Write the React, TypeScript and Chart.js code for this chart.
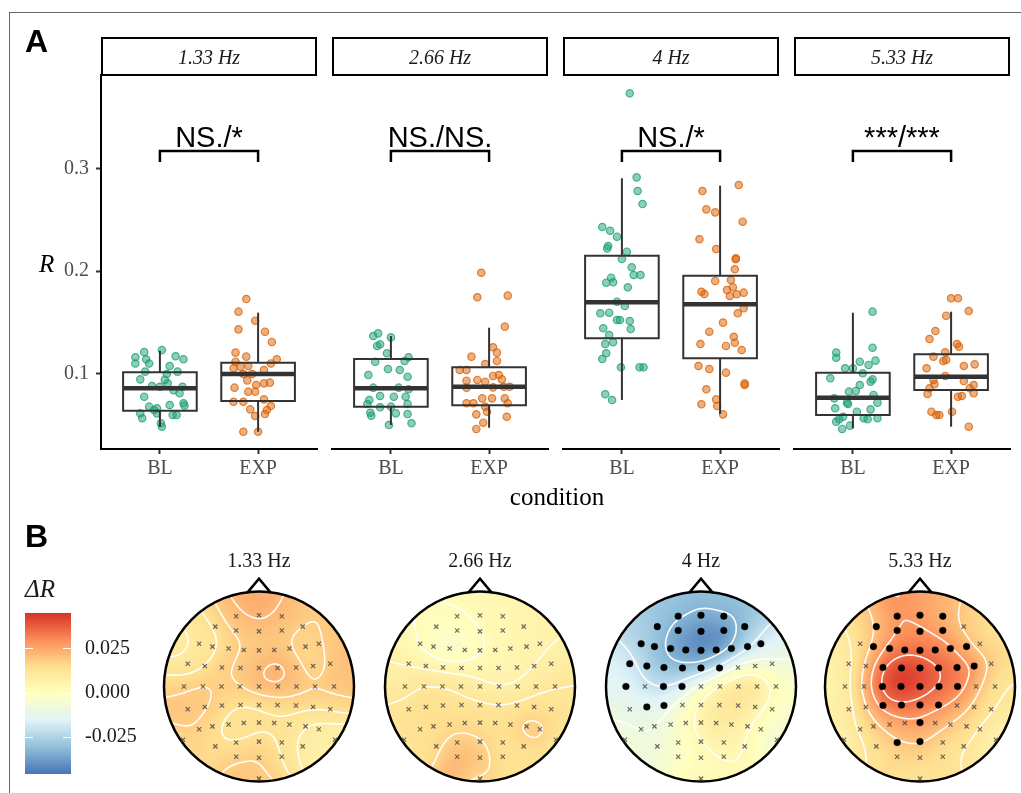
import React, { useEffect, useRef } from 'react';
import { Chart, registerables } from 'chart.js';

Chart.register(...registerables);

const SERIF = '"Liberation Serif", "Times New Roman", serif';
const SANS = '"Liberation Sans", Arial, sans-serif';

/* ================= Panel A data ================= */
const FREQS = ['1.33 Hz', '2.66 Hz', '4 Hz', '5.33 Hz'];
const CONDITIONS = ['BL', 'EXP'];
const SIG_LABELS = ['NS./*', 'NS./NS.', 'NS./*', '***/***'];
const R_TICKS = [0.1, 0.2, 0.3];

// boxplot stats: [lower whisker, Q1, median, Q3, upper whisker]
const BOX_BL = [
  [0.0484, 0.064, 0.0858, 0.1014, 0.1224],
  [0.05, 0.0679, 0.0858, 0.1143, 0.1367],
  [0.0744, 0.1345, 0.1695, 0.2149, 0.2903],
  [0.0468, 0.0598, 0.0766, 0.101, 0.1594],
];
const BOX_EXP = [
  [0.0435, 0.0734, 0.0997, 0.1107, 0.1594],
  [0.0474, 0.0692, 0.0873, 0.1062, 0.1448],
  [0.0608, 0.115, 0.1676, 0.1954, 0.2831],
  [0.0484, 0.0841, 0.0971, 0.1189, 0.1604],
];

// jittered participants: [jitter offset, R]
const PTS_BL_133 = [
  [-0.16, 0.121], [0.02, 0.123], [0.16, 0.117], [0.24, 0.114], [-0.25, 0.116], [-0.14, 0.114],
  [-0.11, 0.11], [-0.25, 0.11], [0.1, 0.1075], [-0.2, 0.0945], [-0.15, 0.102], [0.07, 0.0997],
  [0.18, 0.102], [-0.08, 0.088], [0.0, 0.0873], [0.08, 0.0906], [0.23, 0.0873], [0.14, 0.084],
  [-0.16, 0.0776], [0.2, 0.0809], [0.05, 0.094], [0.24, 0.0712], [0.25, 0.0689], [-0.11, 0.0679],
  [-0.03, 0.0663], [0.1, 0.0695], [-0.2, 0.0614], [-0.18, 0.0566], [-0.03, 0.0614], [0.13, 0.0598],
  [0.17, 0.0598], [0.02, 0.0484], [0.01, 0.0517], [-0.06, 0.0646],
];
const PTS_EXP_133 = [
  [-0.12, 0.1727], [-0.2, 0.1604], [-0.03, 0.1516], [-0.2, 0.1432], [0.07, 0.1409], [0.14, 0.1309],
  [-0.23, 0.1205], [-0.12, 0.1166], [0.19, 0.114], [-0.23, 0.1117], [0.13, 0.11], [-0.1, 0.1075],
  [-0.18, 0.1068], [-0.25, 0.1053], [0.06, 0.1036], [-0.06, 0.0997], [-0.15, 0.0997], [-0.24, 0.0864],
  [-0.02, 0.089], [0.06, 0.0906], [0.12, 0.0913], [-0.1, 0.0825], [-0.03, 0.0825], [-0.25, 0.0727],
  [-0.15, 0.0727], [0.06, 0.075], [0.13, 0.0685], [-0.08, 0.0653], [0.09, 0.0646], [-0.03, 0.0588],
  [0.07, 0.0607], [-0.15, 0.0435], [0.0, 0.0435], [-0.11, 0.0935],
];
const PTS_BL_266 = [
  [-0.18, 0.1367], [-0.13, 0.1393], [-0.11, 0.1286], [-0.14, 0.127], [0.0, 0.1354], [-0.04, 0.1199],
  [0.18, 0.116], [0.14, 0.1124], [-0.16, 0.1117], [-0.03, 0.1046], [0.09, 0.1036], [-0.23, 0.0987],
  [0.17, 0.0971], [-0.18, 0.0864], [0.08, 0.0864], [0.18, 0.0848], [-0.11, 0.0783], [0.03, 0.0776],
  [0.15, 0.0776], [-0.22, 0.0744], [-0.24, 0.0705], [0.17, 0.0705], [-0.11, 0.0673], [0.0, 0.0679],
  [-0.21, 0.062], [-0.2, 0.0591], [0.05, 0.0614], [0.17, 0.0607], [-0.02, 0.05], [0.21, 0.0517],
];
const PTS_EXP_266 = [
  [-0.08, 0.1983], [-0.12, 0.1744], [0.19, 0.176], [0.16, 0.1458], [0.04, 0.1257], [0.08, 0.1205],
  [-0.18, 0.1166], [0.08, 0.1124], [-0.04, 0.1094], [-0.3, 0.1036], [-0.23, 0.1036], [0.04, 0.0978],
  [0.1, 0.0987], [-0.23, 0.0932], [-0.12, 0.0939], [-0.04, 0.0922], [0.13, 0.0945], [0.21, 0.0873],
  [-0.23, 0.0864], [0.04, 0.0867], [0.15, 0.0873], [-0.07, 0.076], [0.03, 0.076], [0.16, 0.076],
  [-0.23, 0.0712], [-0.16, 0.0712], [0.19, 0.0712], [-0.04, 0.0679], [-0.13, 0.0604], [-0.02, 0.063],
  [0.18, 0.0581], [-0.06, 0.0523], [-0.13, 0.0462],
];
const PTS_BL_4 = [
  [0.08, 0.373], [0.15, 0.2912], [0.16, 0.2779], [0.21, 0.2652], [-0.2, 0.2428], [-0.12, 0.2392],
  [-0.05, 0.2334], [-0.14, 0.2243], [-0.15, 0.222], [0.05, 0.2188], [0.0, 0.2117], [0.1, 0.2036],
  [0.12, 0.1961], [0.19, 0.1961], [-0.11, 0.1935], [-0.16, 0.1886], [-0.09, 0.189], [0.06, 0.1841],
  [-0.05, 0.1701], [0.03, 0.1659], [-0.22, 0.1588], [-0.13, 0.1594], [-0.05, 0.1523], [-0.02, 0.1523],
  [0.08, 0.1513], [-0.19, 0.1442], [0.09, 0.1435], [-0.13, 0.1377], [-0.17, 0.1289], [-0.09, 0.1306],
  [-0.16, 0.1199], [-0.2, 0.1143], [-0.01, 0.1062], [0.18, 0.1062], [0.22, 0.1062], [-0.17, 0.08],
  [-0.1, 0.0744],
];
const PTS_EXP_4 = [
  [0.19, 0.2837], [-0.18, 0.2779], [-0.14, 0.26], [-0.05, 0.2571], [0.23, 0.248], [-0.21, 0.2309],
  [-0.04, 0.2214], [0.16, 0.2124], [0.16, 0.2114], [0.15, 0.2017], [-0.05, 0.1903], [0.11, 0.1912],
  [0.13, 0.1841], [0.07, 0.1815], [-0.19, 0.1798], [-0.16, 0.1776], [0.1, 0.1757], [0.24, 0.1789],
  [0.17, 0.1773], [0.24, 0.1637], [0.18, 0.1588], [0.03, 0.1497], [-0.11, 0.1409], [0.14, 0.136],
  [0.15, 0.1302], [-0.2, 0.1289], [0.06, 0.127], [0.22, 0.1231], [-0.22, 0.1075], [-0.11, 0.1046],
  [0.06, 0.101], [0.25, 0.0906], [0.25, 0.089], [-0.14, 0.0848], [-0.04, 0.075], [-0.19, 0.0702],
  [-0.03, 0.0685], [0.03, 0.0604],
];
const PTS_BL_533 = [
  [0.2, 0.1604], [-0.17, 0.1205], [-0.17, 0.1156], [0.2, 0.1253], [0.07, 0.1117], [0.23, 0.1127],
  [0.16, 0.1085], [-0.08, 0.1053], [0.0, 0.1053], [0.1, 0.1004], [-0.23, 0.0955], [0.2, 0.0945],
  [0.18, 0.0922], [0.07, 0.089], [-0.04, 0.0825], [0.03, 0.0832], [0.21, 0.0793], [-0.19, 0.076],
  [-0.06, 0.0718], [-0.05, 0.0705], [0.25, 0.0718], [-0.18, 0.0663], [0.04, 0.063], [0.18, 0.0653],
  [-0.1, 0.0581], [-0.14, 0.0556], [-0.17, 0.0533], [0.11, 0.0566], [0.15, 0.0556], [0.25, 0.0566],
  [-0.11, 0.0462], [-0.03, 0.0494],
];
const PTS_EXP_533 = [
  [0.0, 0.1734], [0.07, 0.1734], [0.18, 0.161], [-0.05, 0.1565], [-0.16, 0.1416], [-0.22, 0.1338],
  [0.06, 0.1289], [0.08, 0.1263], [-0.06, 0.1208], [-0.18, 0.1166], [-0.08, 0.1124], [-0.05, 0.1133],
  [-0.25, 0.1053], [0.13, 0.1075], [0.24, 0.1091], [-0.06, 0.0978], [-0.18, 0.0939], [0.13, 0.0929],
  [-0.17, 0.0897], [-0.22, 0.0858], [0.19, 0.0858], [0.23, 0.089], [-0.24, 0.0802], [0.11, 0.0783],
  [0.07, 0.0776], [0.23, 0.0809], [-0.2, 0.063], [-0.15, 0.0598], [-0.12, 0.0598], [0.01, 0.063],
  [0.18, 0.0484],
];
const POINTS_BL = [PTS_BL_133, PTS_BL_266, PTS_BL_4, PTS_BL_533];
const POINTS_EXP = [PTS_EXP_133, PTS_EXP_266, PTS_EXP_4, PTS_EXP_533];

/* ================= Panel B data ================= */
const ELECTRODES = [
  'Fp1', 'Fpz', 'Fp2',
  'AF7', 'AF3', 'AFz', 'AF4', 'AF8',
  'F7', 'F5', 'F3', 'F1', 'Fz', 'F2', 'F4', 'F6', 'F8',
  'FT7', 'FC5', 'FC3', 'FC1', 'FCz', 'FC2', 'FC4', 'FC6', 'FT8',
  'T7', 'C5', 'C3', 'C1', 'Cz', 'C2', 'C4', 'C6', 'T8',
  'TP7', 'CP5', 'CP3', 'CP1', 'CPz', 'CP2', 'CP4', 'CP6', 'TP8',
  'P9', 'P7', 'P5', 'P3', 'P1', 'Pz', 'P2', 'P4', 'P6', 'P8', 'P10',
  'PO7', 'PO3', 'POz', 'PO4', 'PO8',
  'O1', 'Oz', 'O2',
  'Iz',
];
const ELEC_X = [
  -0.24, 0, 0.24,
  -0.46, -0.24, 0, 0.24, 0.46,
  -0.63, -0.49, -0.32, -0.16, 0, 0.16, 0.32, 0.49, 0.63,
  -0.75, -0.57, -0.39, -0.195, 0, 0.195, 0.39, 0.57, 0.75,
  -0.79, -0.59, -0.395, -0.2, 0, 0.2, 0.395, 0.59, 0.79,
  -0.75, -0.57, -0.39, -0.195, 0, 0.195, 0.39, 0.57, 0.75,
  -0.8, -0.63, -0.49, -0.32, -0.16, 0, 0.16, 0.32, 0.49, 0.63, 0.8,
  -0.46, -0.24, 0, 0.24, 0.46,
  -0.24, 0, 0.24,
  0,
];
const ELEC_Y = [
  0.74, 0.75, 0.74,
  0.63, 0.59, 0.58, 0.59, 0.63,
  0.45, 0.42, 0.4, 0.385, 0.38, 0.385, 0.4, 0.42, 0.45,
  0.24, 0.215, 0.2, 0.195, 0.195, 0.195, 0.2, 0.215, 0.24,
  0, 0, 0, 0, 0, 0, 0, 0, 0,
  -0.24, -0.215, -0.2, -0.195, -0.195, -0.195, -0.2, -0.215, -0.24,
  -0.56, -0.45, -0.42, -0.4, -0.385, -0.38, -0.385, -0.4, -0.42, -0.45, -0.56,
  -0.63, -0.59, -0.58, -0.59, -0.63,
  -0.74, -0.75, -0.74,
  -0.97,
];
// ΔR per electrode (same order as ELECTRODES)
const DR_133 = [
  0.023, 0.025, 0.022,
  0.014, 0.018, 0.019, 0.019, 0.018,
  0.009, 0.012, 0.017, 0.018, 0.019, 0.02, 0.018, 0.013, 0.02,
  0.009, 0.014, 0.018, 0.019, 0.022, 0.026, 0.021, 0.013, 0.021,
  0.017, 0.02, 0.017, 0.018, 0.023, 0.023, 0.02, 0.019, 0.02,
  0.02, 0.02, 0.016, 0.013, 0.013, 0.015, 0.016, 0.015, 0.015,
  0.016, 0.019, 0.014, 0.012, 0.012, 0.013, 0.013, 0.013, 0.01, 0.006, 0.007,
  0.015, 0.012, 0.016, 0.014, 0.006,
  0.02, 0.019, 0.014,
  0.019,
];
const DR_266 = [
  0.002, 0.003, 0.004,
  0.001, -0.003, 0.001, 0.004, 0.005,
  0.003, -0.005, -0.006, -0.005, 0.0, 0.003, 0.004, 0.005, 0.006,
  0.006, 0.006, 0.005, 0.005, 0.005, 0.004, 0.004, 0.006, 0.008,
  0.009, 0.013, 0.013, 0.011, 0.007, 0.005, 0.006, 0.011, 0.012,
  0.013, 0.015, 0.014, 0.013, 0.013, 0.012, 0.013, 0.014, 0.013,
  0.012, 0.014, 0.015, 0.015, 0.016, 0.015, 0.014, 0.015, 0.021, 0.019, 0.012,
  0.014, 0.019, 0.017, 0.014, 0.013,
  0.024, 0.021, 0.013,
  0.015,
];
const DR_4 = [
  -0.029, -0.031, -0.029,
  -0.027, -0.038, -0.044, -0.044, -0.029,
  -0.023, -0.031, -0.036, -0.04, -0.044, -0.043, -0.036, -0.025, -0.016,
  -0.016, -0.025, -0.031, -0.031, -0.031, -0.018, -0.002, 0.0, -0.01,
  -0.014, -0.019, -0.023, -0.019, -0.002, 0.01, 0.016, 0.016, -0.003,
  -0.01, -0.015, -0.013, -0.003, 0.007, 0.012, 0.013, 0.008, -0.004,
  -0.006, -0.009, -0.009, -0.006, 0.0, 0.007, 0.01, 0.01, 0.004, -0.004, -0.008,
  -0.009, -0.003, 0.003, 0.007, 0.002,
  -0.002, 0.0, 0.002,
  0.002,
];
const DR_533 = [
  0.029, 0.026, 0.022,
  0.018, 0.028, 0.029, 0.025, 0.016,
  0.01, 0.022, 0.03, 0.033, 0.033, 0.032, 0.03, 0.022, 0.013,
  0.006, 0.02, 0.039, 0.046, 0.043, 0.037, 0.034, 0.03, 0.015,
  0.005, 0.021, 0.042, 0.046, 0.041, 0.036, 0.034, 0.022, 0.011,
  0.006, 0.018, 0.034, 0.037, 0.034, 0.031, 0.026, 0.018, 0.01,
  0.004, 0.012, 0.018, 0.022, 0.025, 0.027, 0.022, 0.019, 0.016, 0.01, 0.003,
  0.012, 0.02, 0.021, 0.016, 0.01,
  0.015, 0.016, 0.013,
  0.012,
];
const TOPO_VALUES = [DR_133, DR_266, DR_4, DR_533];
const SIG_133: string[] = [];
const SIG_266: string[] = [];
const SIG_4 = ['Fp1', 'Fpz', 'Fp2', 'AF7', 'AF3', 'AFz', 'AF4', 'AF8', 'F7', 'F5', 'F3', 'F1', 'Fz', 'F2', 'F4', 'F6', 'F8',
  'FT7', 'FC5', 'FC3', 'FC1', 'FCz', 'FC2', 'T7', 'C3', 'C1', 'CP5', 'CP3'];
const SIG_533 = ['Fp1', 'Fpz', 'Fp2', 'AF7', 'AF3', 'AFz', 'AF4', 'F5', 'F3', 'F1', 'Fz', 'F2', 'F4', 'F6',
  'FC3', 'FC1', 'FCz', 'FC2', 'FC4', 'FC6', 'C3', 'C1', 'Cz', 'C2', 'C4', 'CP3', 'CP1', 'CPz', 'CP2', 'Pz', 'PO3', 'POz'];
const TOPO_SIG = [SIG_133, SIG_266, SIG_4, SIG_533];

const DR_MIN = -0.046;
const DR_MAX = 0.045;
const CB_TICKS = [-0.025, 0, 0.025];
const PALETTE = ['#4575b4', '#91bfdb', '#e0f3f8', '#ffffbf', '#fee090', '#fc8d59', '#d73027'];

/* ================= layout / style constants ================= */
const GREEN = '27,158,119';
const ORANGE = '217,95,2';
const R_MIN = 0.02668;
const R_MAX = 0.39085;
const BRACKET_Y = 0.3168;
const BRACKET_TIP = 0.3061;
const SIG_TEXT_Y = 0.3207;
const BOX_HALF = 0.375;
const PANEL_LEFT = [101, 332, 563, 794];
const PANEL_W = 216;
const TOPO_LEFT = [139, 360, 581, 800];
const TOPO_TOP = 540;
const TOPO_W = 240;
const TOPO_H = 260;
const HEAD_PX = 95;
const HEAD_CY = 686.5;
const SIGMA = 0.135;

const PAL_RGB = PALETTE.map((h) => [parseInt(h.slice(1, 3), 16), parseInt(h.slice(3, 5), 16), parseInt(h.slice(5, 7), 16)]);
function colorAt(v: number) {
  let t = (v - DR_MIN) / (DR_MAX - DR_MIN);
  t = Math.max(0, Math.min(1, t));
  const p = t * (PAL_RGB.length - 1);
  const i = Math.min(Math.floor(p), PAL_RGB.length - 2);
  const f = p - i;
  const a = PAL_RGB[i], b = PAL_RGB[i + 1];
  return [a[0] + (b[0] - a[0]) * f, a[1] + (b[1] - a[1]) * f, a[2] + (b[2] - a[2]) * f];
}

function makeInterp(vals: number[]) {
  const s2 = 2 * SIGMA * SIGMA;
  const n = vals.length;
  return (x: number, y: number) => {
    let ws = 0, vs = 0;
    for (let k = 0; k < n; k++) {
      const dx = x - ELEC_X[k], dy = y - ELEC_Y[k];
      const w = Math.exp(-(dx * dx + dy * dy) / s2) + 1e-12;
      ws += w;
      vs += w * vals[k];
    }
    return vs / ws;
  };
}

function signif1(x: number) {
  if (x === 0) return 0;
  const p = Math.pow(10, Math.floor(Math.log10(Math.abs(x))));
  return Math.round(x / p) * p;
}

const common = {
  responsive: false,
  animation: false as const,
  devicePixelRatio: 1,
  events: [] as any[],
};

/* ================= Facet (panel A) ================= */
function Facet({ idx }: { idx: number }) {
  const ref = useRef<HTMLCanvasElement>(null);
  const first = idx === 0;
  const left = first ? 20 : PANEL_LEFT[idx] - 4;
  const width = first ? PANEL_LEFT[0] + PANEL_W + 4 - 20 : PANEL_W + 8;
  const height = 480;

  useEffect(() => {
    const datasets: any[] = [];
    [POINTS_BL[idx], POINTS_EXP[idx]].forEach((pts, ci) => {
      const rgb = ci === 0 ? GREEN : ORANGE;
      datasets.push({
        data: pts.map(([dx, v]) => ({ x: ci + 1 + dx, y: v })),
        backgroundColor: `rgba(${rgb},0.5)`,
        borderColor: `rgba(${rgb},0.75)`,
        borderWidth: 1.2,
        pointRadius: 3.7,
        order: 3,
      });
    });
    const line = (data: any[], w: number, cap = 'butt') => ({
      data, showLine: true, pointRadius: 0, borderColor: '#333333', borderWidth: w,
      tension: 0, fill: false, borderCapStyle: cap, borderJoinStyle: 'miter', order: 1,
    });
    [BOX_BL[idx], BOX_EXP[idx]].forEach((b, ci) => {
      const c = ci + 1;
      const [lo, q1, med, q3, hi] = b;
      datasets.push(line([
        { x: c - BOX_HALF, y: q1 }, { x: c + BOX_HALF, y: q1 }, { x: c + BOX_HALF, y: q3 },
        { x: c - BOX_HALF, y: q3 }, { x: c - BOX_HALF, y: q1 },
      ], 2, 'square'));
      datasets.push(line([{ x: c, y: lo }, { x: c, y: q1 }], 2));
      datasets.push(line([{ x: c, y: q3 }, { x: c, y: hi }], 2));
      datasets.push(line([{ x: c - BOX_HALF, y: med }, { x: c + BOX_HALF, y: med }], 4.5));
    });
    datasets.push({
      data: [{ x: 1, y: BRACKET_TIP }, { x: 1, y: BRACKET_Y }, { x: 2, y: BRACKET_Y }, { x: 2, y: BRACKET_TIP }],
      showLine: true, pointRadius: 0, borderColor: '#000', borderWidth: 2.5, tension: 0,
      borderCapStyle: 'butt', borderJoinStyle: 'miter', order: 0, clip: false,
    });

    const decor = {
      id: 'facetDecor',
      afterDraw(chart: any) {
        const { ctx, chartArea: a } = chart;
        const xs = chart.scales.x, ys = chart.scales.y;
        ctx.save();
        ctx.lineWidth = 2;
        ctx.strokeStyle = '#000';
        ctx.strokeRect(a.left + 1, a.top - 37, a.right - a.left - 2, 37);
        ctx.fillStyle = '#1a1a1a';
        ctx.font = `italic 20px ${SERIF}`;
        ctx.textAlign = 'center';
        ctx.textBaseline = 'alphabetic';
        ctx.fillText(FREQS[idx], (a.left + a.right) / 2, a.top - 11);
        ctx.fillStyle = '#000';
        ctx.font = `29px ${SANS}`;
        ctx.fillText(SIG_LABELS[idx], xs.getPixelForValue(1.5), ys.getPixelForValue(SIG_TEXT_Y));
        if (first) {
          ctx.textAlign = 'left';
          ctx.font = `bold 32px ${SANS}`;
          ctx.fillText('A', 5, 32);
          ctx.font = `italic 25px ${SERIF}`;
          ctx.fillText('R', 19, (a.top + a.bottom) / 2 + 9.5);
        }
        ctx.restore();
      },
    };

    const gridStyle = {
      display: true, drawOnChartArea: false, drawTicks: true, tickLength: 5,
      tickColor: '#333333', tickWidth: 2, color: '#333333',
    };
    const yAxis: any = {
      type: 'linear', min: R_MIN, max: R_MAX, display: first,
      afterBuildTicks: (s: any) => { s.ticks = R_TICKS.map((v) => ({ value: v })); },
      ticks: {
        callback: (v: any) => Number(v).toFixed(1),
        color: '#4d4d4d', font: { family: SERIF, size: 20 }, padding: 7,
      },
      grid: gridStyle,
      border: { display: true, color: '#000', width: 2 },
    };
    if (first) yAxis.afterFit = (s: any) => { s.width = 81; };
    const chart = new Chart(ref.current as HTMLCanvasElement, {
      type: 'scatter',
      data: { datasets },
      options: {
        ...common,
        layout: { autoPadding: false, padding: { left: first ? 0 : 4, right: 4, top: 55, bottom: 0 } },
        plugins: { legend: { display: false }, tooltip: { enabled: false } },
        scales: {
          x: {
            type: 'linear', min: 0.4, max: 2.6,
            afterBuildTicks: (s: any) => { s.ticks = [1, 2].map((v) => ({ value: v })); },
            afterFit: (s: any) => { s.height = 51; },
            ticks: {
              callback: (v: any) => CONDITIONS[Math.round(Number(v)) - 1],
              color: '#4d4d4d', font: { family: SERIF, size: 20 }, padding: 3, maxRotation: 0, autoSkip: false,
            },
            grid: gridStyle,
            border: { display: true, color: '#000', width: 2 },
          },
          y: yAxis,
        },
      } as any,
      plugins: [decor],
    } as any);
    return () => chart.destroy();
  }, [idx]);

  return (
    <canvas ref={ref} width={width} height={height}
      style={{ position: 'absolute', left, top: 20, width, height }} />
  );
}

/* ================= Colour bar ================= */
function ColorBar() {
  const ref = useRef<HTMLCanvasElement>(null);
  useEffect(() => {
    const decor = {
      id: 'cbDecor',
      afterDatasetsDraw(chart: any) {
        const { ctx, chartArea: a } = chart;
        const ys = chart.scales.y;
        ctx.save();
        ctx.strokeStyle = '#ffffff';
        ctx.lineWidth = 1;
        CB_TICKS.forEach((v) => {
          const py = Math.round(ys.getPixelForValue(v)) + 0.5;
          ctx.beginPath();
          ctx.moveTo(a.left, py); ctx.lineTo(a.left + 8, py);
          ctx.moveTo(a.right - 8, py); ctx.lineTo(a.right, py);
          ctx.stroke();
        });
        ctx.fillStyle = '#000';
        ctx.textAlign = 'left';
        ctx.textBaseline = 'alphabetic';
        ctx.font = `bold 32px ${SANS}`;
        ctx.fillText('B', 10, 37);
        ctx.font = `italic 25px ${SERIF}`;
        ctx.fillStyle = '#1a1a1a';
        ctx.fillText('ΔR', 10, 87);
        ctx.restore();
      },
    };
    const chart = new Chart(ref.current as HTMLCanvasElement, {
      type: 'bar',
      data: {
        labels: ['ΔR'],
        datasets: [{
          data: [[DR_MIN, DR_MAX]],
          backgroundColor: (c: any) => {
            const ch = c.chart;
            const ys = ch.scales && ch.scales.y;
            if (!ys || !ch.chartArea) return '#ffffbf';
            const g = ch.ctx.createLinearGradient(0, ys.getPixelForValue(DR_MIN), 0, ys.getPixelForValue(DR_MAX));
            PALETTE.forEach((col, i) => g.addColorStop(i / (PALETTE.length - 1), col));
            return g;
          },
          borderWidth: 0, barPercentage: 1, categoryPercentage: 1,
        }],
      },
      options: {
        ...common,
        layout: { autoPadding: false, padding: { left: 10, top: 103, bottom: 17, right: 0 } },
        plugins: { legend: { display: false }, tooltip: { enabled: false } },
        scales: {
          x: { display: false },
          y: {
            position: 'right', min: DR_MIN, max: DR_MAX,
            afterBuildTicks: (s: any) => { s.ticks = CB_TICKS.map((v) => ({ value: v })); },
            afterFit: (s: any) => { s.width = 104; },
            ticks: { callback: (v: any) => Number(v).toFixed(3), color: '#1a1a1a', font: { family: SERIF, size: 20 }, padding: 14 },
            grid: { display: false, drawTicks: false },
            border: { display: false },
          },
        },
      } as any,
      plugins: [decor],
    } as any);
    return () => chart.destroy();
  }, []);
  return <canvas ref={ref} width={160} height={290} style={{ position: 'absolute', left: 15, top: 510, width: 160, height: 290 }} />;
}

/* ================= Topomap ================= */
function Topo({ idx }: { idx: number }) {
  const ref = useRef<HTMLCanvasElement>(null);
  useEffect(() => {
    const vals = TOPO_VALUES[idx];
    const sig = TOPO_SIG[idx];
    const plain: any[] = [], hot: any[] = [];
    ELECTRODES.forEach((e, k) => (sig.includes(e) ? hot : plain).push({ x: ELEC_X[k], y: ELEC_Y[k] }));
    const interp = makeInterp(vals);

    const field = {
      id: 'topoField',
      beforeDatasetsDraw(chart: any) {
        const { ctx } = chart;
        const xs = chart.scales.x, ys = chart.scales.y;
        const cx = xs.getPixelForValue(0), cy = ys.getPixelForValue(0);
        const r = xs.getPixelForValue(1) - cx;
        const x0 = Math.floor(cx - r) - 1, y0 = Math.floor(cy - r) - 1;
        const size = Math.ceil(2 * r) + 4;
        const off = document.createElement('canvas');
        off.width = size; off.height = size;
        const octx = off.getContext('2d') as CanvasRenderingContext2D;
        const img = octx.createImageData(size, size);
        for (let py = 0; py < size; py++) {
          const vy = ys.getValueForPixel(y0 + py + 0.5);
          for (let px = 0; px < size; px++) {
            const vx = xs.getValueForPixel(x0 + px + 0.5);
            if (vx * vx + vy * vy > 1.06) continue;
            const c = colorAt(interp(vx, vy));
            const o = (py * size + px) * 4;
            img.data[o] = c[0]; img.data[o + 1] = c[1]; img.data[o + 2] = c[2]; img.data[o + 3] = 255;
          }
        }
        octx.putImageData(img, 0, 0);
        ctx.save();
        ctx.beginPath();
        ctx.arc(cx, cy, r, 0, Math.PI * 2);
        ctx.clip();
        ctx.drawImage(off, x0, y0);

        // contours (6 bins over the map's range)
        const n = 121, lo = -1.05, hi = 1.05, h = (hi - lo) / (n - 1);
        const g = new Float64Array(n * n);
        let zmin = Infinity, zmax = -Infinity;
        for (let j = 0; j < n; j++) for (let i = 0; i < n; i++) {
          const x = lo + i * h, y = lo + j * h;
          const v = interp(x, y);
          g[j * n + i] = v;
          if (x * x + y * y <= 1) { if (v < zmin) zmin = v; if (v > zmax) zmax = v; }
        }
        const acc = signif1(zmax - zmin) / 10;
        const zlo = Math.floor(zmin / acc) * acc, zhi = Math.ceil(zmax / acc) * acc;
        const bw = (zhi - zlo) / 5;
        const levels: number[] = [];
        for (let k = 0; k <= 5; k++) levels.push(zlo + k * bw);
        ctx.strokeStyle = 'rgba(255,255,255,0.95)';
        ctx.lineWidth = 1.6;
        ctx.lineCap = 'round';
        ctx.lineJoin = 'round';
        ctx.beginPath();
        const P = (x: number, y: number) => [xs.getPixelForValue(x), ys.getPixelForValue(y)];
        for (const L of levels) {
          for (let j = 0; j < n - 1; j++) for (let i = 0; i < n - 1; i++) {
            const xA = lo + i * h, yA = lo + j * h, xB = xA + h, yB = yA + h;
            const v00 = g[j * n + i], v10 = g[j * n + i + 1], v11 = g[(j + 1) * n + i + 1], v01 = g[(j + 1) * n + i];
            const pts: number[][] = [];
            const edge = (va: number, vb: number, ax: number, ay: number, bx: number, by: number) => {
              if ((va < L) !== (vb < L)) {
                const t = (L - va) / (vb - va);
                pts.push([ax + (bx - ax) * t, ay + (by - ay) * t]);
              }
            };
            edge(v00, v10, xA, yA, xB, yA);
            edge(v10, v11, xB, yA, xB, yB);
            edge(v11, v01, xB, yB, xA, yB);
            edge(v01, v00, xA, yB, xA, yA);
            for (let s = 0; s + 1 < pts.length; s += 2) {
              const p1 = P(pts[s][0], pts[s][1]), p2 = P(pts[s + 1][0], pts[s + 1][1]);
              ctx.moveTo(p1[0], p1[1]);
              ctx.lineTo(p2[0], p2[1]);
            }
          }
        }
        ctx.stroke();
        ctx.restore();

        // head outline and nose
        ctx.save();
        ctx.strokeStyle = '#000';
        ctx.lineWidth = 2.5;
        ctx.beginPath();
        ctx.arc(cx, cy, r, 0, Math.PI * 2);
        ctx.stroke();
        ctx.beginPath();
        ctx.lineJoin = 'miter';
        ctx.moveTo(xs.getPixelForValue(-0.125), ys.getPixelForValue(0.985));
        ctx.lineTo(xs.getPixelForValue(0), ys.getPixelForValue(1.135));
        ctx.lineTo(xs.getPixelForValue(0.125), ys.getPixelForValue(0.985));
        ctx.stroke();
        ctx.fillStyle = '#1a1a1a';
        ctx.font = `20px ${SERIF}`;
        ctx.textAlign = 'center';
        ctx.textBaseline = 'alphabetic';
        ctx.fillText(FREQS[idx], cx, ys.getPixelForValue(1.26));
        ctx.restore();
      },
    };

    const yMax = (HEAD_CY - TOPO_TOP) / HEAD_PX;
    const yMin = -(TOPO_TOP + TOPO_H - HEAD_CY) / HEAD_PX;
    const xHalf = TOPO_W / 2 / HEAD_PX;
    const chart = new Chart(ref.current as HTMLCanvasElement, {
      type: 'scatter',
      data: {
        datasets: [
          { data: plain, pointStyle: 'crossRot', pointRadius: 3, borderColor: 'rgba(70,70,70,0.8)', borderWidth: 1.2, backgroundColor: 'rgba(0,0,0,0)' },
          { data: hot, pointStyle: 'circle', pointRadius: 3.3, backgroundColor: '#000', borderColor: '#000', borderWidth: 0.5 },
        ],
      },
      options: {
        ...common,
        layout: { autoPadding: false, padding: 0 },
        plugins: { legend: { display: false }, tooltip: { enabled: false } },
        scales: {
          x: { type: 'linear', min: -xHalf, max: xHalf, display: false },
          y: { type: 'linear', min: yMin, max: yMax, display: false },
        },
      } as any,
      plugins: [field],
    } as any);
    return () => chart.destroy();
  }, [idx]);
  return (
    <canvas ref={ref} width={TOPO_W} height={TOPO_H}
      style={{ position: 'absolute', left: TOPO_LEFT[idx], top: TOPO_TOP, width: TOPO_W, height: TOPO_H }} />
  );
}

export default function App() {
  return (
    <div style={{ position: 'fixed', left: 0, top: 0, width: 1021, height: 793, overflow: 'hidden', background: '#fff' }}>
      <div style={{ position: 'absolute', left: 9, top: 12, width: 1100, height: 900, borderTop: '1px solid #666', borderLeft: '1px solid #666' }} />
      {FREQS.map((f, i) => <Facet key={f} idx={i} />)}
      <div style={{ position: 'absolute', left: 457, top: 484, width: 200, textAlign: 'center', fontFamily: SERIF, fontSize: 25, lineHeight: '25px', color: '#000' }}>condition</div>
      <ColorBar />
      {FREQS.map((f, i) => <Topo key={'t' + f} idx={i} />)}
    </div>
  );
}
